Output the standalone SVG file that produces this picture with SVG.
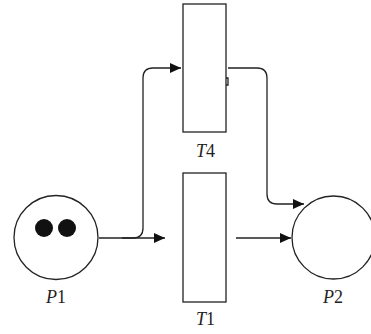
<svg xmlns="http://www.w3.org/2000/svg" width="371" height="334" viewBox="0 0 371 334">
<defs>
<marker id="ah" viewBox="0 0 11 10" refX="11" refY="5" markerWidth="11" markerHeight="10" markerUnits="userSpaceOnUse" orient="auto">
<path d="M0,0 L11,5 L0,10 Z" fill="#111"/>
</marker>
<style>
.n{fill:#fff;stroke:#222;stroke-width:1.3}
.c{fill:none;stroke:#222;stroke-width:1.3}
.t{font-family:"Liberation Serif",serif;font-size:18px;fill:#222;text-anchor:middle}
.i{font-style:italic}
</style>
</defs>
<g id="connectors">
<path class="c" d="M99,238 L165,238" marker-end="url(#ah)"/>
<path class="c" d="M122,238 L133,238 Q143,238 143,228 L143,78 Q143,68 153,68 L181,68" marker-end="url(#ah)"/>
<path class="c" d="M228,68 L257,68 Q267,68 267,78 L267,194 Q267,204 277,204 L304,204" marker-end="url(#ah)"/>
<path class="c" d="M236,238 L291,238" marker-end="url(#ah)"/>
</g>
<g id="P1">
<circle class="n" cx="56" cy="237.5" r="42"/>
<circle cx="44" cy="228" r="9" fill="#111"/>
<circle cx="67" cy="228" r="9" fill="#111"/>
<text class="t" x="56" y="303"><tspan class="i">P</tspan>1</text>
</g>
<g id="T4">
<rect class="n" x="183" y="4" width="43" height="128"/>
<path class="c" d="M226,78 L228,78 L228,85 L226,85"/>
<text class="t" x="205.5" y="157"><tspan class="i">T</tspan>4</text>
</g>
<g id="T1">
<rect class="n" x="183" y="173" width="43" height="129"/>
<text class="t" x="205.5" y="325"><tspan class="i">T</tspan>1</text>
</g>
<g id="P2">
<circle class="n" cx="333.5" cy="237.5" r="41.5"/>
<text class="t" x="333" y="303"><tspan class="i">P</tspan>2</text>
</g>
</svg>
